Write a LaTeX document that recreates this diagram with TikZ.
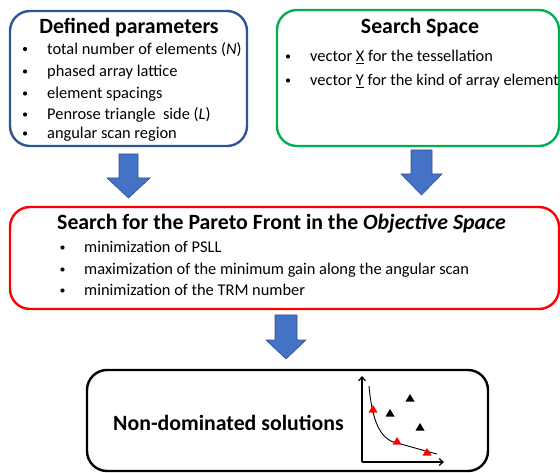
\documentclass[tikz,border=0pt]{standalone}
\usepackage{fontspec}
\setmainfont{Carlito}
\usetikzlibrary{arrows.meta}
\definecolor{bblue}{HTML}{2F5597}
\definecolor{ggreen}{HTML}{00B050}
\definecolor{rred}{HTML}{FF0000}
\definecolor{afill}{HTML}{4472C4}
\definecolor{aedge}{HTML}{2F528F}
\newcommand{\itm}[5]{%
  \node[bul] (#1b) at (#2,#4-5.5) {};
  \node[itemtxt, anchor=base west] (#1) at (#3,#4) {#5};}
\newcommand{\tri}[4]{%
  \fill[#4] (#2-4.5,#3+3.5) -- (#2+4.5,#3+3.5) -- (#2,#3-4) -- cycle;
  \coordinate (#1) at (#2,#3);}
\begin{document}
\begin{tikzpicture}[x=1pt,y=-1pt,
  box/.style={draw, line width=2.4pt, rounded corners=20pt, inner sep=0pt},
  ttl/.style={inner sep=0pt, font=\fontsize{21.8}{25}\selectfont\bfseries},
  itemtxt/.style={inner sep=0pt, font=\fontsize{16.4}{19}\selectfont},
  bul/.style={circle, fill=black, inner sep=0pt, minimum size=4.2pt},
  blockarrow/.style={fill=afill, draw=aedge, line width=0.6pt}]
\useasboundingbox (0,0) rectangle (560,473);
% boxes
\node[box, draw=bblue, minimum width=237pt, minimum height=135pt] (par) at (128.5,78.5) {};
\node[box, draw=ggreen, minimum width=282pt, minimum height=136pt] (ss) at (418,78) {};
\node[box, draw=rred, minimum width=549pt, minimum height=102pt] (pf) at (284.5,258) {};
\node[box, draw=black, minimum width=401pt, minimum height=101pt] (nd) at (287.5,420.5) {};
% titles
\node[ttl] (t1) at (129,28) {Defined parameters};
\node[ttl] (t2) at (420,28) {Search Space};
\node[ttl, anchor=west] (t3) at (57,224) {Search for the Pareto Front in the \textit{Objective Space}};
\node[ttl, anchor=west] (t4) at (113,423) {Non-dominated solutions};
% items box 1
\itm{a1}{25}{47}{54.5}{total number of elements (\textit{N})}
\itm{a2}{25}{47}{77}{phased array lattice}
\itm{a3}{25}{47}{99}{element spacings}
\itm{a4}{25}{47}{120}{Penrose triangle\ \ side (\textit{L})}
\itm{a5}{25}{47}{139}{angular scan region}
% items box 2
\itm{s1}{288}{310}{62}{vector \underline{X} for the tessellation}
\itm{s2}{288}{310}{86}{vector \underline{Y} for the kind of array element}
% items box 3
\itm{r1}{62.5}{84}{253}{minimization of PSLL}
\itm{r2}{62.5}{84}{275}{maximization of the minimum gain along the angular scan}
\itm{r3}{62.5}{84}{296}{minimization of the TRM number}
% block arrows
\draw[blockarrow] (119,154) -- (138,154) -- (138,178) -- (150,178) -- (128.5,198) -- (107,178) -- (119,178) -- cycle;
\draw[blockarrow] (411,150) -- (432,150) -- (432,174) -- (442,174) -- (421.5,195) -- (401,174) -- (411,174) -- cycle;
\draw[blockarrow] (275,315) -- (297,315) -- (297,340) -- (306,340) -- (286,359) -- (266,340) -- (275,340) -- cycle;
% chart
\coordinate (org) at (362,462);
\coordinate (ytop) at (362,376);
\coordinate (xend) at (444,462);
\draw[line width=1.2pt, -{Straight Barb[length=4pt,width=7pt]}] (org) -- (ytop);
\draw[line width=1.2pt, -{Straight Barb[length=4pt,width=7pt]}] (org) -- (xend);
\draw[line width=0.9pt] (369,386) .. controls (372,420) and (380,440) .. (397,443) .. controls (412,447) and (425,451) .. (437,454);
\tri{k1}{410}{398}{black}
\tri{k2}{390}{413}{black}
\tri{k3}{420}{427}{black}
\tri{r1p}{373}{409}{rred}
\tri{r2p}{397}{441}{rred}
\tri{r3p}{427}{452}{rred}
\end{tikzpicture}
\end{document}
